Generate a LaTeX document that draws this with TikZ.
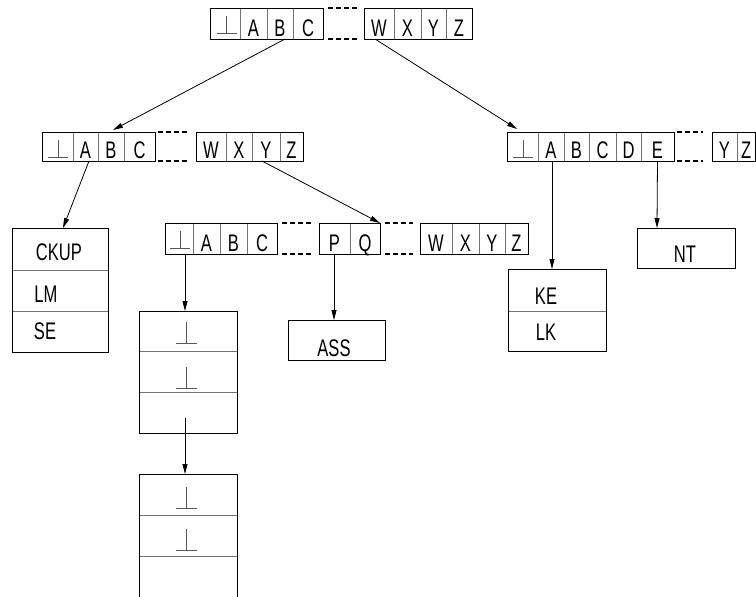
\documentclass[tikz,border=0pt]{standalone}
\usepackage{fontspec}
\setmainfont{Liberation Sans}[FakeStretch=0.69]
\usetikzlibrary{arrows.meta}
\newcommand\arow[4]{%
  \foreach \lab/\xa/\xb [count=\i] in {#4}{%
    \node[cellnode, minimum width={(\xb-\xa)*1pt}, minimum height={(#3-#2)*1pt}] (#1\i) at ({(\xa+\xb)/2},{(#2+#3)/2}) {};
    \node[lettr] (#1t\i) at ({(\xa+\xb)/2},{#3-2.5}) {\lab};
  }%
}
\newcommand\frameb[5]{\node[frame, minimum width={(#3-#2)*1pt}, minimum height={(#5-#4)*1pt}] (#1) at ({(#2+#3)/2},{(#4+#5)/2}) {};}
\newcommand\slotb[5]{\node[slot, minimum width={(#3-#2)*1pt}, minimum height={(#5-#4)*1pt}] (#1) at ({(#2+#3)/2},{(#4+#5)/2}) {};}
\begin{document}
\begin{tikzpicture}[x=1pt,y=-1pt,
  cellnode/.style={draw=black!55, line width=0.6pt, inner sep=0pt, outer sep=0pt},
  frame/.style={draw=black, line width=0.8pt, inner sep=0pt, outer sep=0pt},
  frameline/.style={draw=black, line width=0.8pt},
  slot/.style={inner sep=0pt, outer sep=0pt},
  lettr/.style={anchor=base, inner sep=0pt, font=\fontsize{24}{26}\selectfont},
  sep/.style={draw=black!55, line width=0.6pt},
  dots/.style={line width=1.8pt, dash pattern=on 5pt off 3pt},
  arr/.style={line width=0.8pt, -{Triangle[length=10pt,width=5pt]}},
  perpl/.style={draw=black!65, line width=1pt},
  pics/perp/.style={code={\draw[perpl] (-10,0) -- (10,0) (0,0) -- (0,-17);}},
  pics/bigperp/.style={code={\draw[perpl] (-10.5,0) -- (10.5,0) (0,0) -- (0,-21);}}
]
\useasboundingbox (0,0) rectangle (756,597);

% top array
\arow{ta}{8}{39}{{}/210/240, A/240/267, B/267/293, C/293/323}
\frameb{TA}{210}{323}{8}{39}
\arow{tb}{8}{39}{W/364/394, X/394/421, Y/421/446, Z/446/472}
\frameb{TB}{364}{472}{8}{39}
\draw[dots] ([xshift=5pt]TA.north east) -- ([xshift=-7pt]TB.north west);
\draw[dots] ([xshift=5pt]TA.south east) -- ([xshift=-7pt]TB.south west);
\pic at ([xshift=1.5pt,yshift=6pt]ta1.south) {perp};

% middle left array
\arow{la}{132}{161}{{}/42/73, A/73/98, B/98/124, C/124/155}
\frameb{LA}{42}{155}{132}{161}
\arow{lb}{132}{161}{W/196/226, X/226/252, Y/252/280, Z/280/303}
\frameb{LB}{196}{303}{132}{161}
\draw[dots] ([xshift=3pt]LA.north east) -- ([xshift=-8pt]LB.north west);
\draw[dots] ([xshift=3pt]LA.south east) -- ([xshift=-8pt]LB.south west);
\pic at ([xshift=0.5pt,yshift=4pt]la1.south) {perp};

% middle right array
\arow{ra}{132}{161}{{}/507/538, A/538/564, B/564/589, C/589/616, D/616/641, E/641/674}
\frameb{RA}{507}{674}{132}{161}
\arow{rb}{132}{161}{Y/712/737, Z/737/755.5}
\frameb{RB}{712}{755.5}{132}{161}
\draw[dots] ([xshift=3pt]RA.north east) -- ([xshift=-9pt]RB.north west);
\draw[dots] ([xshift=3pt]RA.south east) -- ([xshift=-9pt]RB.south west);
\pic at ([xshift=0.5pt,yshift=4pt]ra1.south) {perp};

% low array
\arow{wa}{223}{254}{{}/165/193, A/193/220, B/220/247, C/247/277}
\frameb{WA}{165}{277}{223}{254}
\arow{wb}{223}{254}{P/319/350, Q/350/380}
\frameb{WB}{319}{380}{223}{254}
\arow{wc}{223}{254}{W/420/452, X/452/479, Y/479/505, Z/505/528}
\frameb{WC}{420}{528}{223}{254}
\draw[dots] ([xshift=5pt]WA.north east) -- ([xshift=-6pt]WB.north west);
\draw[dots] ([xshift=5pt]WA.south east) -- ([xshift=-6pt]WB.south west);
\draw[dots] ([xshift=5pt]WB.north east) -- ([xshift=-7pt]WC.north west);
\draw[dots] ([xshift=5pt]WB.south east) -- ([xshift=-7pt]WC.south west);
\pic at ([xshift=1pt,yshift=6pt]wa1.south) {perp};

% CKUP box
\slotb{ck1}{12}{108}{228}{270}
\slotb{ck2}{12}{108}{270}{311}
\slotb{ck3}{12}{108}{311}{352}
\draw[sep] (ck1.south west) -- (ck1.south east);
\draw[sep] (ck2.south west) -- (ck2.south east);
\frameb{CK}{12}{108}{228}{352}
\node[lettr] (ckt1) at (59,260) {CKUP};
\node[lettr] (ckt2) at (46,302) {LM};
\node[lettr] (ckt3) at (45,339) {SE};

% stack 1
\slotb{s1a}{139}{237}{311}{351}
\slotb{s1b}{139}{237}{351}{392}
\slotb{s1c}{139}{237}{392}{433}
\draw[sep] (s1a.south west) -- (s1a.south east);
\draw[sep] (s1b.south west) -- (s1b.south east);
\frameb{S1}{139}{237}{311}{433}
\pic at ([xshift=-2pt,yshift=8pt]s1a.south) {bigperp};
\pic at ([xshift=-2pt,yshift=4pt]s1b.south) {bigperp};

% stack 2 (open bottom)
\slotb{s2a}{139}{237}{474}{515}
\slotb{s2b}{139}{237}{515}{556}
\slotb{s2c}{139}{237}{556}{600}
\draw[sep] (s2a.south west) -- (s2a.south east);
\draw[sep] (s2b.south west) -- (s2b.south east);
\draw[frameline] (s2c.south west) -- (s2a.north west) -- (s2a.north east) -- (s2c.south east);
\pic at ([xshift=-2pt,yshift=7pt]s2a.south) {bigperp};
\pic at ([xshift=-2pt,yshift=6pt]s2b.south) {bigperp};

% ASS box
\frameb{AS}{288}{385}{320}{360}
\node[lettr] (ast) at (334,356) {ASS};

% KE / LK box
\slotb{ke1}{508}{606}{269}{311}
\slotb{ke2}{508}{606}{311}{351}
\draw[sep] (ke1.south west) -- (ke1.south east);
\frameb{KL}{508}{606}{269}{351}
\node[lettr] (ket) at (546,304) {KE};
\node[lettr] (lkt) at (546,340) {LK};

% NT box
\frameb{NT}{637}{735}{228}{268}
\node[lettr] (ntt) at (685,262) {NT};

% arrows
\draw[arr] ([xshift=5pt]ta3.south) -- ([xshift=2pt,yshift=2pt]la3.north);
\draw[arr] ([xshift=-4pt]tb1.south) -- ([xshift=-5.5pt,yshift=3pt]ra1.north);
\draw[arr] ([xshift=3.5pt]la2.south) -- ([xshift=3pt]CK.north);
\draw[arr] ([xshift=-4pt]lb3.south) -- (WB.north east);
\draw[arr] ([xshift=6pt]wa1.south) -- ([xshift=-3pt]S1.north);
\draw[arr] ([xshift=-0.5pt]wb1.south) -- ([xshift=-2.5pt]AS.north);
\draw[arr] ([xshift=1pt]ra2.south) -- ([xshift=-5pt]KL.north);
\draw[arr] (ra6.south) -- ([xshift=-29pt]NT.north);
\draw[arr] ([xshift=-3pt,yshift=15pt]s1c.south) -- ([xshift=-3pt]s2a.north);
\end{tikzpicture}
\end{document}
